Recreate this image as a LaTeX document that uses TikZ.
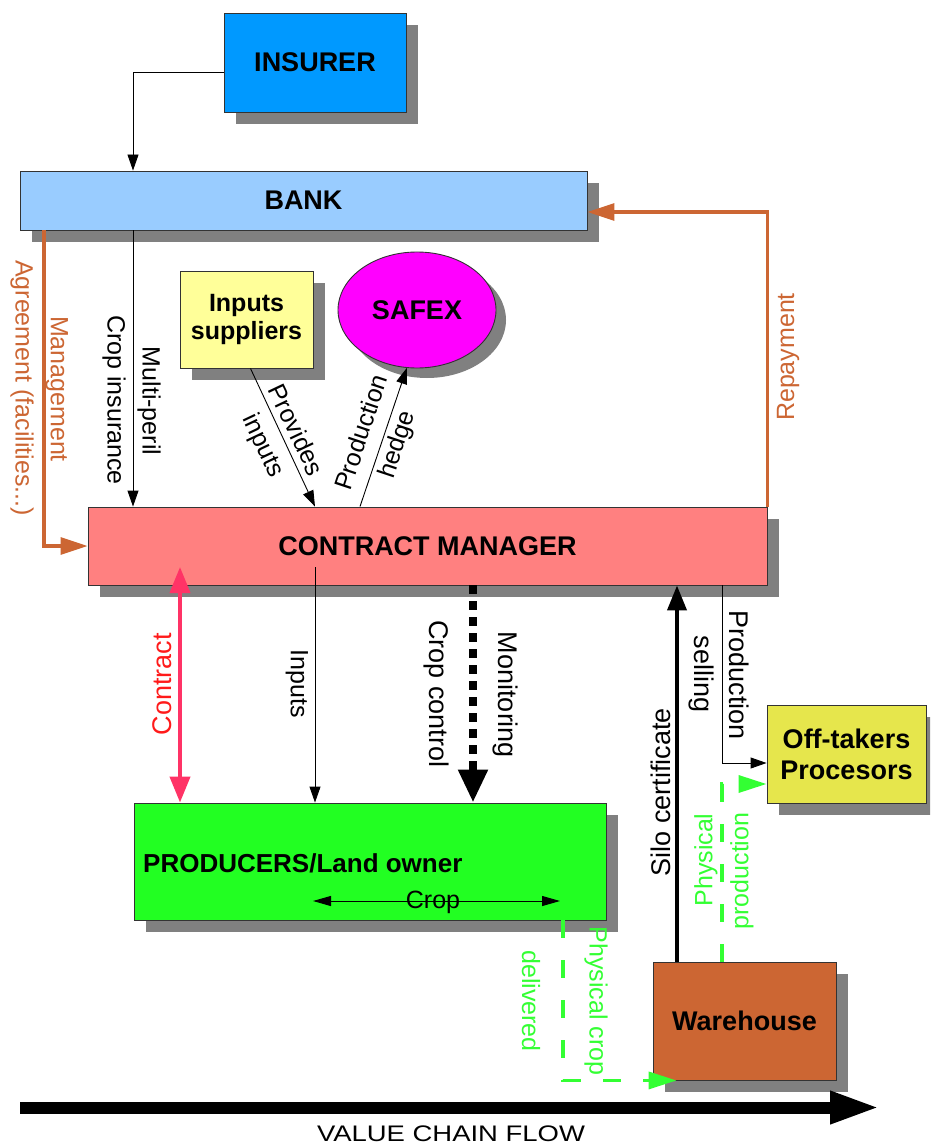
\documentclass[tikz,border=0pt]{standalone}
\usepackage{fontspec}
\setmainfont{Liberation Sans}
\usetikzlibrary{arrows.meta,shadows,shapes.geometric}
\definecolor{cInsurer}{HTML}{0099FF}
\definecolor{cBank}{HTML}{99CCFF}
\definecolor{cInputs}{HTML}{FFFF99}
\definecolor{cSafex}{HTML}{FF00FF}
\definecolor{cCM}{HTML}{FF8080}
\definecolor{cProd}{HTML}{22FF22}
\definecolor{cOff}{HTML}{E6E64C}
\definecolor{cWh}{HTML}{CC6633}
\definecolor{cOrange}{HTML}{CC6633}
\definecolor{cContract}{HTML}{FF3366}
\definecolor{cRed}{HTML}{FF1A1A}
\definecolor{cGreen}{HTML}{33FF33}
\definecolor{cShadow}{HTML}{808080}
\definecolor{cBorder}{HTML}{333333}
\begin{document}
\begin{tikzpicture}[x=1pt,y=-1pt,
  boxbase/.style={draw=cBorder, line width=0.9pt, inner sep=0pt, align=center,
    font=\bfseries\fontsize{27}{31}\selectfont},
  box/.style={boxbase, drop shadow={shadow xshift=12pt,shadow yshift=-12pt,fill=cShadow,opacity=1}},
  lbl/.style={inner sep=0pt, align=center, font=\fontsize{25}{29}\selectfont},
  lblL/.style={inner sep=0pt, align=center, font=\fontsize{27}{31}\selectfont},
  thinarr/.style={draw=black, line width=0.9pt, -{Triangle[length=16pt,width=11pt]}},
  orarr/.style={draw=cOrange, line width=3.2pt, -{Triangle[length=27pt,width=17pt]}},
  grnarr/.style={draw=cGreen, line width=3.5pt, dash pattern=on 18pt off 22pt, -{Triangle[length=28pt,width=17pt]}},
  ctrarr/.style={draw=cContract, line width=4pt, {Triangle[length=26pt,width=20pt]}-{Triangle[length=26pt,width=20pt]}},
  monarr/.style={draw=black, line width=8pt, dash pattern=on 9pt off 7pt, -{Triangle[length=33pt,width=28pt]}},
  siloarr/.style={draw=black, line width=4pt, -{Triangle[length=25pt,width=19pt]}},
  croparr/.style={draw=black, line width=1pt, {Triangle[length=18pt,width=10pt]}-{Triangle[length=18pt,width=10pt]}},
  vcarr/.style={draw=black, line width=12pt, -{Triangle[length=50pt,width=30pt]}}
]
\clip (0,0) rectangle (930,1147);

% nodes
\node[box, fill=cInsurer, minimum width=182pt, minimum height=99pt] (ins) at (315,62.5) {INSURER};
\node[box, fill=cBank, minimum width=567pt, minimum height=59pt] (bank) at (303.5,200.5) {BANK};
\node[box, fill=cInputs, minimum width=133pt, minimum height=97pt, font=\bfseries\fontsize{25}{28}\selectfont] (sup) at (246.5,319.5) {Inputs\\suppliers};
\node[boxbase, ellipse, fill=cSafex, minimum width=158pt, minimum height=116pt,
  drop shadow={shadow xshift=10pt,shadow yshift=-10pt,fill=cShadow,opacity=1}] (safex) at (417,310) {SAFEX};
\node[box, fill=cCM, minimum width=679pt, minimum height=78pt] (cm) at (427.5,546) {CONTRACT MANAGER};
\node[box, fill=cProd, minimum width=472pt, minimum height=117pt] (prod) at (370,861.5) {};
\node[inner sep=0pt, anchor=west, font=\bfseries\fontsize{26}{30}\selectfont] (prodt) at (143,863) {PRODUCERS/Land owner};
\node[box, fill=cOff, minimum width=159pt, minimum height=98pt] (off) at (846.5,754) {Off-takers\\Procesors};
\node[box, fill=cWh, minimum width=183pt, minimum height=118pt] (wh) at (744.5,1021) {Warehouse};

% crop inside producers
\coordinate (cropL) at (313,901);
\coordinate (cropR) at (560,901);
\draw[croparr] (cropL) -- (cropR);
\node[lbl] (croplbl) at (433,902) {Crop};

% insurer -> bank
\draw[thinarr] ([yshift=-10pt]ins.west) -| (133,0 |- bank.north);

% bank -> contract manager (multi-peril)
\draw[thinarr] (133,0 |- bank.south) -- (133,0 |- cm.north);
\node[lbl, rotate=-90] (l1) at (149,401) {Multi-peril};
\node[lbl, rotate=-90] (l2) at (114,400) {Crop insurance};

% management agreement
\draw[orarr] (44,0 |- bank.south) |- (cm.west);
\node[lbl, rotate=-90, text=cOrange] (l3) at (57,389) {Management};
\node[lbl, rotate=-90, text=cOrange] (l4) at (22,388) {Agreement (facilities...)};

% repayment
\draw[orarr] (cm.north east) |- (bank.east |- 0,212);
\node[lbl, rotate=90, text=cOrange] (l5) at (788,357) {Repayment};

% provides inputs
\draw[thinarr] ([xshift=4pt]sup.south) -- (315,0 |- cm.north);
\node[lbl, rotate=-64.6, font=\fontsize{25}{35}\selectfont] (l6) at (278.5,438.5) {Provides\\inputs};

% production hedge
\draw[thinarr] (360,0 |- cm.north) -- (safex.-100);
\node[lbl, rotate=71.6, font=\fontsize{25}{37}\selectfont] (l8) at (380.5,439) {Production\\hedge};

% contract
\coordinate (ctop) at (180,567);
\draw[ctrarr] (ctop) -- (180,0 |- prod.north);
\node[lblL, rotate=90, text=cRed] (l10) at (162,684) {Contract};

% inputs
\coordinate (itop) at (315,567);
\draw[thinarr] (itop) -- (315,0 |- prod.north);
\node[lbl, rotate=-90] (l11) at (297,684) {Inputs};

% monitoring / crop control
\draw[monarr] (473,0 |- cm.south) -- (473,0 |- prod.north);
\node[lblL, rotate=-90] (l12) at (505,695) {Monitoring};
\node[lblL, rotate=-90] (l13) at (436,694) {Crop control};

% silo certificate
\draw[siloarr] (677,0 |- wh.north) -- (677,0 |- cm.south);
\node[lblL, rotate=90] (l14) at (661,792) {Silo certificate};

% production selling
\draw[thinarr] (722,0 |- cm.south) |- (off.west |- 0,763);
\node[lblL, rotate=-90] (l15) at (739,675) {Production};
\node[lblL, rotate=-90] (l16) at (701,674) {selling};

% physical production
\draw[grnarr] (722,0 |- wh.north) |- (off.west |- 0,784);
\node[lbl, rotate=90, text=cGreen] (l17) at (706,860) {Physical};
\node[lbl, rotate=90, text=cGreen] (l18) at (742,871) {production};

% physical crop delivered
\draw[grnarr] (563,0 |- prod.south) |- ([xshift=24pt]wh.south west);
\node[lbl, rotate=-90, text=cGreen] (l19) at (596,1001) {Physical crop};
\node[lbl, rotate=-90, text=cGreen] (l20) at (531,1001) {delivered};

% value chain flow
\coordinate (v0) at (20,1107.5);
\coordinate (v1) at (880,1107.5);
\draw[vcarr] (v0) -- (v1);
\node[inner sep=0pt, font=\fontsize{22.5}{26}\selectfont] (vcf) at (451,1134) {\scalebox{1.22}[1]{VALUE CHAIN FLOW}};
\end{tikzpicture}
\end{document}
